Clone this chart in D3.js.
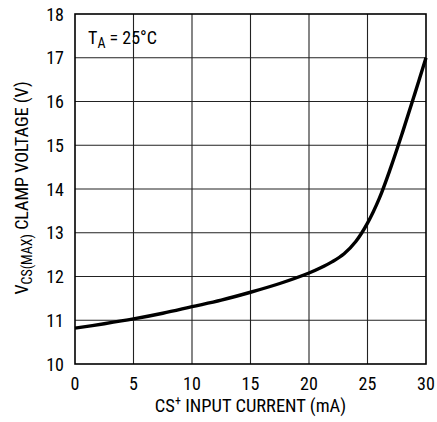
<!DOCTYPE html>
<html>
<head>
<meta charset="utf-8">
<script src="https://cdn.jsdelivr.net/npm/d3@7"></script>
<style>
  body { margin: 0; background: #fff; }
  svg text { font-family: "Liberation Sans Narrow", "Arial Narrow", "Roboto Condensed", sans-serif; fill: #000; }
</style>
</head>
<body>
<div class="chart"></div>
<script>
// current (mA) vs clamp voltage (V)
var currentMA = [0, 2.5, 5, 7.5, 10, 12.5, 15, 17.5, 20, 21, 22, 23, 24, 25, 26, 27, 28, 29, 30];
var clampV = [10.82, 10.92, 11.03, 11.16, 11.31, 11.46, 11.64, 11.84, 12.08, 12.2, 12.34, 12.52, 12.8, 13.22, 13.78, 14.5, 15.3, 16.14, 17.0];
var xTicks = [0, 5, 10, 15, 20, 25, 30];
var yTicks = [10, 11, 12, 13, 14, 15, 16, 17, 18];

var width = 437, height = 422;
var margin = {top: 14, right: 11, bottom: 58, left: 75};

var svg = d3.select('.chart').append('svg')
  .attr('width', width)
  .attr('height', height);

var x = d3.scaleLinear().domain([0, 30]).range([margin.left, width - margin.right]);
var y = d3.scaleLinear().domain([10, 18]).range([height - margin.bottom, margin.top]);

// grid
svg.append('g').selectAll('line.v')
  .data(xTicks.slice(1, -1))
  .enter().append('line')
  .attr('x1', d => x(d)).attr('x2', d => x(d))
  .attr('y1', y(10)).attr('y2', y(18))
  .attr('stroke', '#222').attr('stroke-width', 1.1);

svg.append('g').selectAll('line.h')
  .data(yTicks.slice(1, -1))
  .enter().append('line')
  .attr('x1', x(0)).attr('x2', x(30))
  .attr('y1', d => y(d)).attr('y2', d => y(d))
  .attr('stroke', '#222').attr('stroke-width', 1.1);

// frame
svg.append('rect')
  .attr('x', x(0)).attr('y', y(18))
  .attr('width', x(30) - x(0)).attr('height', y(10) - y(18))
  .attr('fill', 'none').attr('stroke', '#000').attr('stroke-width', 1.6);

// tick labels
svg.append('g').selectAll('text')
  .data(xTicks)
  .enter().append('text')
  .attr('x', d => x(d)).attr('y', y(10) + 26)
  .attr('text-anchor', 'middle')
  .attr('font-size', 18)
  .text(d => d);

svg.append('g').selectAll('text')
  .data(yTicks)
  .enter().append('text')
  .attr('x', x(0) - 11).attr('y', d => y(d) + 6.5)
  .attr('text-anchor', 'end')
  .attr('font-size', 18)
  .text(d => d);

// curve
var line = d3.line()
  .x((d, i) => x(currentMA[i]))
  .y(d => y(d))
  .curve(d3.curveCatmullRom.alpha(0.5));

svg.append('path')
  .datum(clampV)
  .attr('d', line)
  .attr('fill', 'none')
  .attr('stroke', '#000')
  .attr('stroke-width', 3.4);

// axis titles
var xt = svg.append('text')
  .attr('x', x(15)).attr('y', 412)
  .attr('text-anchor', 'middle')
  .attr('font-size', 18.5);
xt.append('tspan').text('CS');
xt.append('tspan').attr('dy', -7).attr('font-size', 12).text('+');
xt.append('tspan').attr('dy', 7).text(' INPUT CURRENT (mA)');

var yt = svg.append('text')
  .attr('transform', 'translate(28,' + (y(14) - 1) + ') rotate(-90)')
  .attr('text-anchor', 'middle')
  .attr('font-size', 18);
yt.append('tspan').text('V');
yt.append('tspan').attr('dy', 4).attr('font-size', 14).text('CS(MAX)');
yt.append('tspan').attr('dy', -4).text(' CLAMP VOLTAGE (V)');

// annotation
var ta = svg.append('text')
  .attr('x', x(0) + 13).attr('y', y(18) + 30)
  .attr('font-size', 18);
ta.append('tspan').text('T');
ta.append('tspan').attr('dy', 4).attr('font-size', 14).text('A');
ta.append('tspan').attr('dy', -4).text(' = 25°C');
</script>
</body>
</html>
